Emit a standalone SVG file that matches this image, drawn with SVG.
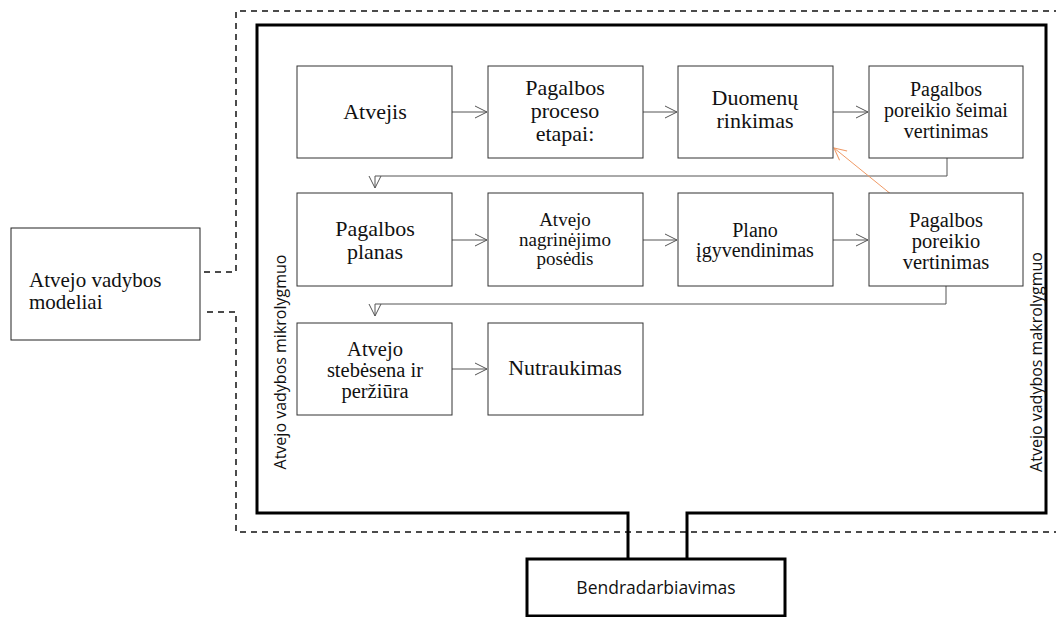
<svg xmlns="http://www.w3.org/2000/svg" width="1056" height="617" viewBox="0 0 1056 617">
<style>
.box{fill:#fff;stroke:#333;stroke-width:1}
.t{font-family:"Liberation Serif","DejaVu Serif","Noto Serif",serif;fill:#111;text-anchor:middle}
.s{font-family:"Open Sans","Liberation Sans",sans-serif;fill:#111;text-anchor:middle}
.c{fill:none;stroke:#555;stroke-width:1}
.dash{fill:none;stroke:#111;stroke-width:1.5;stroke-dasharray:6 5}
.thick{fill:none;stroke:#000;stroke-width:3}
</style>
<defs>
<marker id="ah" markerWidth="16" markerHeight="14" refX="13" refY="7" orient="auto" markerUnits="userSpaceOnUse">
<path d="M1,1 L13,7 L1,13" fill="none" stroke="#555" stroke-width="1"/>
</marker>
<marker id="oa" markerWidth="16" markerHeight="14" refX="13" refY="7" orient="auto" markerUnits="userSpaceOnUse">
<path d="M1,1 L13,7 L1,13" fill="none" stroke="#f09a66" stroke-width="1"/>
</marker>
</defs>
<rect width="1056" height="617" fill="#fff"/>
<g id="frames">
<path class="dash" d="M204,272 H236 V11 H1060 M1060,532 H236 V312 H204"/>
<path class="thick" d="M628,559 V513 H257 V25 H1046 V513 H687 V559"/>
</g>
<g id="connectors">
<line class="c" x1="452" y1="112" x2="487" y2="112" marker-end="url(#ah)"/>
<line class="c" x1="643" y1="112" x2="677" y2="112" marker-end="url(#ah)"/>
<line class="c" x1="833" y1="112" x2="868" y2="112" marker-end="url(#ah)"/>
<path class="c" d="M947,158 V176 H375 V188" marker-end="url(#ah)"/>
<line class="c" x1="452" y1="240" x2="487" y2="240" marker-end="url(#ah)"/>
<line class="c" x1="643" y1="240" x2="677" y2="240" marker-end="url(#ah)"/>
<line class="c" x1="833" y1="240" x2="868" y2="240" marker-end="url(#ah)"/>
<path class="c" d="M946,286 V304 H375 V316" marker-end="url(#ah)"/>
<line class="c" x1="452" y1="369" x2="487" y2="369" marker-end="url(#ah)"/>
<line x1="892" y1="195" x2="834" y2="148" stroke="#f09a66" stroke-width="1" marker-end="url(#oa)"/>
</g>
<g id="n-modeliai">
<rect class="box" x="11" y="228" width="189" height="112" style="stroke:#222"/>
<text class="t" x="29" y="287" font-size="21" style="text-anchor:start">Atvejo vadybos</text>
<text class="t" x="29" y="309" font-size="21" style="text-anchor:start">modeliai</text>
</g>
<g id="n-atvejis">
<rect class="box" x="297" y="66" width="155" height="92"/>
<text class="t" x="375" y="119" font-size="22">Atvejis</text>
</g>
<g id="n-etapai">
<rect class="box" x="488" y="66" width="155" height="92"/>
<text class="t" x="565" y="95" font-size="22">Pagalbos</text>
<text class="t" x="565" y="118" font-size="22">proceso</text>
<text class="t" x="565" y="141" font-size="22">etapai:</text>
</g>
<g id="n-duomenu">
<rect class="box" x="678" y="66" width="155" height="92"/>
<text class="t" x="755" y="105" font-size="22">Duomenų</text>
<text class="t" x="755" y="128" font-size="22">rinkimas</text>
</g>
<g id="n-seimai">
<rect class="box" x="869" y="66" width="154" height="92"/>
<text class="t" x="946" y="96" font-size="20">Pagalbos</text>
<text class="t" x="946" y="117" font-size="20">poreikio šeimai</text>
<text class="t" x="946" y="138" font-size="20">vertinimas</text>
</g>
<g id="n-planas">
<rect class="box" x="297" y="193" width="155" height="93"/>
<text class="t" x="375" y="236" font-size="22">Pagalbos</text>
<text class="t" x="375" y="259" font-size="22">planas</text>
</g>
<g id="n-posedis">
<rect class="box" x="488" y="193" width="155" height="93"/>
<text class="t" x="565" y="226" font-size="19">Atvejo</text>
<text class="t" x="565" y="246" font-size="19">nagrinėjimo</text>
<text class="t" x="565" y="265" font-size="19">posėdis</text>
</g>
<g id="n-plano">
<rect class="box" x="678" y="193" width="155" height="93"/>
<text class="t" x="755" y="237" font-size="20">Plano</text>
<text class="t" x="755" y="257" font-size="20">įgyvendinimas</text>
</g>
<g id="n-poreikio">
<rect class="box" x="869" y="193" width="154" height="93"/>
<text class="t" x="946" y="227" font-size="20.5">Pagalbos</text>
<text class="t" x="946" y="248" font-size="20.5">poreikio</text>
<text class="t" x="946" y="269" font-size="20.5">vertinimas</text>
</g>
<g id="n-stebesena">
<rect class="box" x="297" y="323" width="155" height="92"/>
<text class="t" x="375" y="356" font-size="20.5">Atvejo</text>
<text class="t" x="375" y="377" font-size="20.5">stebėsena ir</text>
<text class="t" x="375" y="398" font-size="20.5">peržiūra</text>
</g>
<g id="n-nutraukimas">
<rect class="box" x="488" y="323" width="155" height="92"/>
<text class="t" x="565" y="375" font-size="22">Nutraukimas</text>
</g>
<g id="n-bendradarbiavimas">
<rect x="527" y="559" width="258" height="57" fill="#fff" stroke="#000" stroke-width="3"/>
<text class="s" x="656" y="594" font-size="17.5">Bendradarbiavimas</text>
</g>
<g id="labels">
<text class="s" font-size="16" transform="translate(286,362) rotate(-90)">Atvejo vadybos mikrolygmuo</text>
<text class="s" font-size="16" transform="translate(1042,362) rotate(-90)">Atvejo vadybos makrolygmuo</text>
</g>
</svg>
